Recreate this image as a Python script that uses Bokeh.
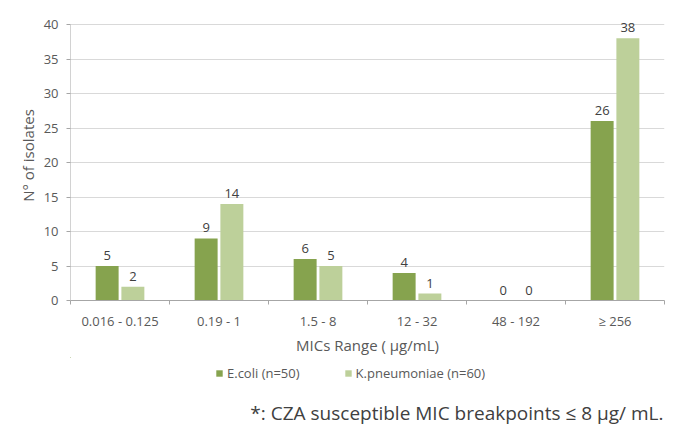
from bokeh.plotting import figure
from bokeh.layouts import column
from bokeh.models import FixedTicker, Legend, LegendItem, Label, ColumnDataSource
from bokeh.core.properties import value
from bokeh.embed import file_html
from bokeh.resources import INLINE

categories = ["0.016 - 0.125", "0.19 - 1", "1.5 - 8", "12 - 32", "48 - 192", "\u2265 256"]
ecoli = [5, 9, 6, 4, 0, 26]
kpneu = [2, 14, 5, 1, 0, 38]
y_ticks = [0, 5, 10, 15, 20, 25, 30, 35, 40]
series_names = ["E.coli (n=50)", "K.pneumoniae (n=60)"]

C_E = "#86A34E"
C_K = "#BDD09A"
TXT = "#595959"
AXC = "#a6a6a6"
FONT = "Open Sans"

n = len(categories)
centers = [i + 0.5 for i in range(n)]
bounds = [float(i) for i in range(n + 1)]
off = 0.13
bw = 0.232

# frame extends a little above the top tick so the top value label is not clipped
FH_AXIS = 276
FH = 290
y_end = y_ticks[-1] * FH / FH_AXIS

p = figure(frame_width=594, frame_height=FH, x_range=(0, n), y_range=(0, y_end),
           output_backend="svg", toolbar_location=None,
           min_border_left=70, min_border_right=11, min_border_top=24 - (FH - FH_AXIS),
           min_border_bottom=0)
p.outline_line_color = None
p.background_fill_color = "white"

src_e = ColumnDataSource(dict(x=[c - off for c in centers], top=ecoli, lab=[str(v) for v in ecoli]))
src_k = ColumnDataSource(dict(x=[c + off for c in centers], top=kpneu, lab=[str(v) for v in kpneu]))

p.vbar(x="x", top="top", width=bw, source=src_e, fill_color=C_E, line_color=None)
p.vbar(x="x", top="top", width=bw, source=src_k, fill_color=C_K, line_color=None)

for src in (src_e, src_k):
    p.text(x="x", y="top", text="lab", source=src, text_align="center", text_baseline="bottom",
           y_offset=-6, text_font=value(FONT), text_font_size="13px", text_color="#404040")

# y axis line only up to the top tick
p.segment(x0=[bounds[0]], y0=[y_ticks[0]], x1=[bounds[0]], y1=[y_ticks[-1]],
          line_color=AXC, line_width=1)

# axes
p.xaxis.ticker = FixedTicker(ticks=centers, minor_ticks=bounds)
p.xaxis.major_label_overrides = {c: lab for c, lab in zip(centers, categories)}
p.xaxis.major_tick_out = 0
p.xaxis.major_tick_in = 0
p.xaxis.minor_tick_out = 4
p.xaxis.minor_tick_in = 0
p.xaxis.minor_tick_line_color = AXC
p.xaxis.axis_line_color = AXC
p.xaxis.major_label_standoff = 7
p.xaxis.major_label_text_font = FONT
p.xaxis.major_label_text_font_size = "13px"
p.xaxis.major_label_text_color = TXT
p.xaxis.axis_label = "MICs Range ( \u03bcg/mL)"
p.xaxis.axis_label_text_font = FONT
p.xaxis.axis_label_text_font_size = "15px"
p.xaxis.axis_label_text_font_style = "normal"
p.xaxis.axis_label_text_color = TXT
p.xaxis.axis_label_standoff = 2

p.yaxis.ticker = FixedTicker(ticks=y_ticks)
p.yaxis.minor_tick_line_color = None
p.yaxis.major_tick_out = 4
p.yaxis.major_tick_in = 0
p.yaxis.major_tick_line_color = AXC
p.yaxis.axis_line_color = None
p.yaxis.major_label_standoff = 8
p.yaxis.major_label_text_font = FONT
p.yaxis.major_label_text_font_size = "13px"
p.yaxis.major_label_text_color = TXT
p.yaxis.axis_label = "N\u00b0 of isolates"
p.yaxis.axis_label_text_font = FONT
p.yaxis.axis_label_text_font_size = "15px"
p.yaxis.axis_label_text_font_style = "normal"
p.yaxis.axis_label_text_color = TXT
p.yaxis.axis_label_standoff = 3

p.xgrid.grid_line_color = None
p.ygrid.grid_line_color = "#d9d9d9"
p.ygrid.ticker = FixedTicker(ticks=y_ticks)

# lower strip: legend and footnote (its bars lie far outside its visible ranges)
H2 = 71
p2 = figure(width=675, height=H2, x_range=(1000, 1001), y_range=(-1000, -999),
            output_backend="svg", toolbar_location=None,
            x_axis_location=None, y_axis_location=None,
            min_border_left=70, min_border_right=0, min_border_top=0, min_border_bottom=0)
p2.outline_line_color = None
p2.xgrid.grid_line_color = None
p2.ygrid.grid_line_color = None
g_e = p2.vbar(x="x", top="top", width=bw, source=src_e, fill_color=C_E, line_color=None)
g_k = p2.vbar(x="x", top="top", width=bw, source=src_k, fill_color=C_K, line_color=None)

legend = Legend(items=[LegendItem(label=series_names[0], renderers=[g_e]),
                       LegendItem(label=series_names[1], renderers=[g_k])],
                orientation="horizontal", location=(145, 46),
                glyph_width=8, glyph_height=8, label_standoff=4, spacing=44,
                label_text_font=FONT, label_text_font_size="13px", label_text_color=TXT,
                background_fill_alpha=0, border_line_color=None, padding=0, margin=0)
p2.add_layout(legend, "center")

note = Label(x=593, y=3, x_units="screen", y_units="screen",
             text="*: CZA susceptible MIC breakpoints \u2264 8 \u03bcg/ mL.",
             text_align="right", text_baseline="bottom", text_font=FONT,
             text_font_size="19px", text_color="#404040")
p2.add_layout(note)

layout = column(p, p2, spacing=0)
open("out.html", "w").write(file_html(layout, INLINE))
